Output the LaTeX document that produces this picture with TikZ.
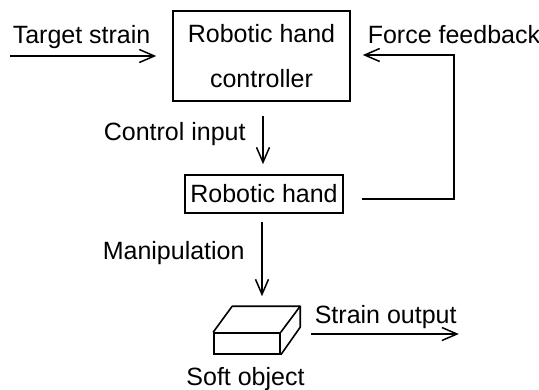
\documentclass[tikz,border=0pt]{standalone}
\usepackage{fontspec}
\setmainfont{Liberation Sans}
\usetikzlibrary{arrows.meta,calc}
\begin{document}
\begin{tikzpicture}[x=1pt,y=-1pt,
  line width=1.6pt,
  font=\fontsize{25}{45}\selectfont,
  box/.style={draw,line width=1.6pt,inner sep=0pt,align=center},
  lbl/.style={inner sep=0pt,anchor=base west},
  arr/.style={-{Straight Barb[length=15pt,width=13pt,line width=1.5pt]}},
  ]
\useasboundingbox (0,0) rectangle (539,389);
\node[box,minimum width=177pt,minimum height=90pt] (ctrl) at (261.5,56) {\raisebox{-2pt}{Robotic hand}\\\raisebox{-2pt}{controller}};
\node[box,minimum width=158pt,minimum height=38pt] (hand) at (264,194) {Robotic hand};
\node[draw,line width=1.6pt,minimum width=66pt,minimum height=21pt,inner sep=0pt] (obj) at (247,343.5) {};
\draw[line join=round] (obj.north west) -- ++(19,-26) -- ++(68,0) coordinate (btr) -- ++(0,21) -- (obj.south east);
\draw[line join=round] (obj.north east) -- (btr);

\node[lbl] (tsl) at (12,43) {Target strain};
\node[lbl] (ffl) at (367,43) {Force feedback};
\node[lbl] (cil) at (103,140) {Control input};
\node[lbl] (mpl) at (102,259) {Manipulation};
\node[lbl] (sol) at (314,323) {Strain output};
\node[inner sep=0pt,anchor=base] (objl) at (245.5,385) {Soft object};

\coordinate (tsin) at (10,56);
\draw[arr] (tsin) -- ($(ctrl.west)+(-16,0)$);
\draw[arr] ($(hand.east)+(18,5)$) -- ($(hand.east)+(110,5)$) |- ($(ctrl.east)+(12,-1)$);
\draw[arr] ($(ctrl.south)+(1.5,14)$) -- ($(hand.north)+(-1,-10)$);
\draw[arr] ($(hand.south)+(-2,8)$) -- ($(obj.north)+(15,-36)$);
\draw[arr] ($(obj.east)+(30,-9.5)$) -- ++(148,0);
\end{tikzpicture}
\end{document}
